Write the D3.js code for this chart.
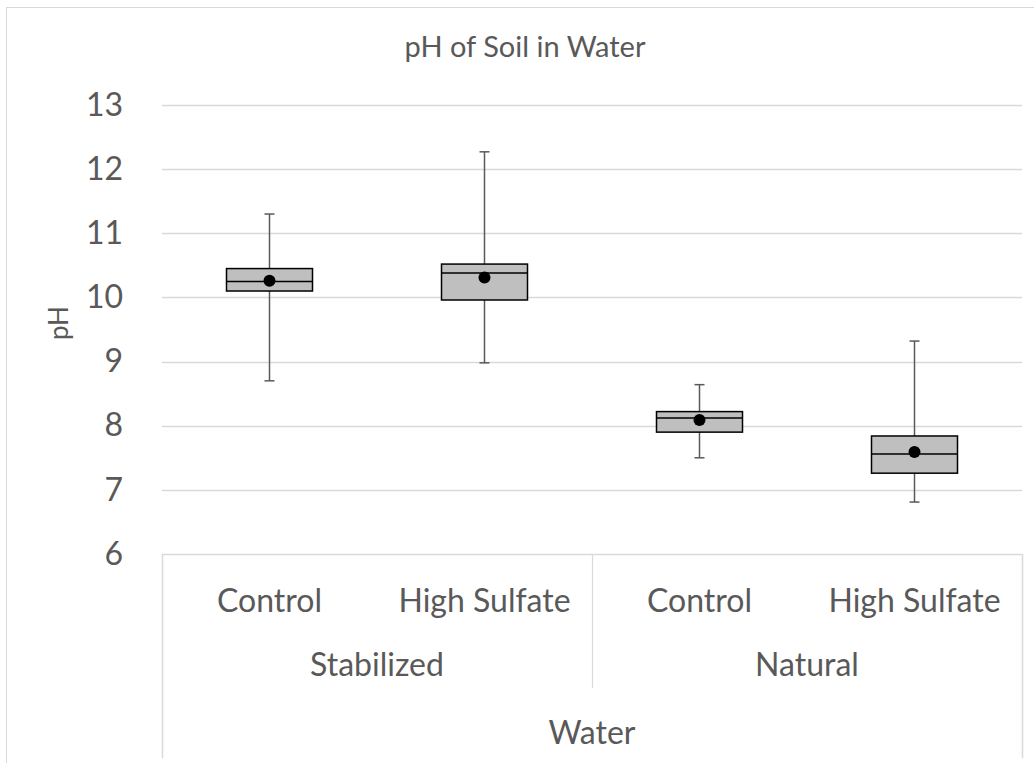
<!DOCTYPE html>
<html>
<head>
<meta charset="utf-8">
<script src="https://cdn.jsdelivr.net/npm/d3@7"></script>
<style>
  html, body { margin: 0; padding: 0; background: #fff; }
</style>
</head>
<body>
<script>
// box plot data
const groups = ["Stabilized", "Stabilized", "Natural", "Natural"];
const treatments = ["Control", "High Sulfate", "Control", "High Sulfate"];
const whiskerLow = [8.70, 8.98, 7.50, 6.81];
const q1 = [10.10, 9.96, 7.90, 7.26];
const median = [10.25, 10.38, 8.12, 7.56];
const q3 = [10.45, 10.52, 8.22, 7.84];
const whiskerHigh = [11.30, 12.27, 8.64, 9.32];
const mean = [10.26, 10.31, 8.09, 7.59];
const yTicks = [6, 7, 8, 9, 10, 11, 12, 13];

const width = 1034, height = 763;
const margin = { top: 105, right: 12, bottom: 209, left: 162 };
const innerW = width - margin.left - margin.right;
const innerH = height - margin.top - margin.bottom;
const font = "Lato, 'Open Sans', sans-serif";
const textColor = "#595959";
const gridColor = "#d9d9d9";

const svg = d3.select("body").append("svg")
  .attr("width", width)
  .attr("height", height)
  .style("font-family", font);

// outer chart border
svg.append("rect")
  .attr("x", 6.5).attr("y", 7.5)
  .attr("width", width).attr("height", height)
  .attr("fill", "none")
  .attr("stroke", gridColor);

const g = svg.append("g")
  .attr("transform", `translate(${margin.left},${margin.top})`);

const keys = treatments.map((t, i) => i);
const x = d3.scaleBand().domain(keys).range([0, innerW]);
const y = d3.scaleLinear().domain([6, 13]).range([innerH, 0]);

// gridlines
g.append("g")
  .selectAll("line")
  .data(yTicks.filter(d => d > 6))
  .join("line")
  .attr("x1", 0).attr("x2", innerW)
  .attr("y1", d => Math.round(y(d)) + 0.5)
  .attr("y2", d => Math.round(y(d)) + 0.5)
  .attr("stroke", gridColor)
  .attr("stroke-width", 1.5);

// y axis labels
const yAxis = d3.axisLeft(y).tickValues(yTicks).tickFormat(d3.format("d")).tickSize(0).tickPadding(39);
g.append("g")
  .call(yAxis)
  .call(sel => sel.select(".domain").remove())
  .call(sel => sel.selectAll("text")
    .style("font-family", font)
    .style("font-size", "32px")
    .attr("fill", textColor));

// category axis box
const catH = 204;
const axisG = g.append("g").attr("transform", `translate(0,${innerH})`);
axisG.append("line")
  .attr("x1", 0).attr("x2", innerW).attr("y1", 0.5).attr("y2", 0.5)
  .attr("stroke", gridColor).attr("stroke-width", 1.5);
axisG.append("line")
  .attr("x1", 0.5).attr("x2", 0.5).attr("y1", 0).attr("y2", catH)
  .attr("stroke", gridColor).attr("stroke-width", 1.5);
axisG.append("line")
  .attr("x1", innerW + 0.5).attr("x2", innerW + 0.5).attr("y1", 0).attr("y2", catH)
  .attr("stroke", gridColor).attr("stroke-width", 1.5);

// group divider and group labels
const groupNames = Array.from(new Set(groups));
const groupSpan = groupNames.map(name => {
  const idx = keys.filter(i => groups[i] === name);
  return { name, x0: x(idx[0]), x1: x(idx[idx.length - 1]) + x.bandwidth() };
});
axisG.selectAll(".divider")
  .data(groupSpan.slice(1))
  .join("line")
  .attr("class", "divider")
  .attr("x1", d => d.x0 + 0.5).attr("x2", d => d.x0 + 0.5)
  .attr("y1", 0).attr("y2", 134)
  .attr("stroke", gridColor).attr("stroke-width", 1.2);

axisG.selectAll(".treat")
  .data(keys)
  .join("text")
  .attr("class", "treat")
  .attr("x", d => x(d) + x.bandwidth() / 2)
  .attr("y", 58)
  .attr("text-anchor", "middle")
  .attr("fill", textColor)
  .style("font-size", "32px")
  .text(d => treatments[d]);

axisG.selectAll(".grp")
  .data(groupSpan)
  .join("text")
  .attr("class", "grp")
  .attr("x", d => (d.x0 + d.x1) / 2)
  .attr("y", 122)
  .attr("text-anchor", "middle")
  .attr("fill", textColor)
  .style("font-size", "32px")
  .text(d => d.name);

axisG.append("text")
  .attr("x", innerW / 2)
  .attr("y", 190)
  .attr("text-anchor", "middle")
  .attr("fill", textColor)
  .style("font-size", "32px")
  .text("Water");

// boxes
const boxW = x.bandwidth() * 0.4;
const capW = 10;
const boxes = g.append("g")
  .selectAll("g")
  .data(keys)
  .join("g")
  .attr("transform", d => `translate(${x(d) + x.bandwidth() / 2},0)`);

boxes.append("line")
  .attr("x1", 0).attr("x2", 0)
  .attr("y1", d => y(whiskerLow[d])).attr("y2", d => y(whiskerHigh[d]))
  .attr("stroke", "#595959").attr("stroke-width", 1.5);
boxes.append("line")
  .attr("x1", -capW / 2).attr("x2", capW / 2)
  .attr("y1", d => y(whiskerLow[d])).attr("y2", d => y(whiskerLow[d]))
  .attr("stroke", "#595959").attr("stroke-width", 1.5);
boxes.append("line")
  .attr("x1", -capW / 2).attr("x2", capW / 2)
  .attr("y1", d => y(whiskerHigh[d])).attr("y2", d => y(whiskerHigh[d]))
  .attr("stroke", "#595959").attr("stroke-width", 1.5);

boxes.append("rect")
  .attr("x", -boxW / 2)
  .attr("width", boxW)
  .attr("y", d => y(q3[d]))
  .attr("height", d => y(q1[d]) - y(q3[d]))
  .attr("fill", "#bfbfbf")
  .attr("stroke", "#000")
  .attr("stroke-width", 1.5);

boxes.append("line")
  .attr("x1", -boxW / 2).attr("x2", boxW / 2)
  .attr("y1", d => y(median[d])).attr("y2", d => y(median[d]))
  .attr("stroke", "#000").attr("stroke-width", 1.5);

boxes.append("circle")
  .attr("cx", 0)
  .attr("cy", d => y(mean[d]))
  .attr("r", 6)
  .attr("fill", "#000");

// titles
svg.append("text")
  .attr("x", 525)
  .attr("y", 57)
  .attr("text-anchor", "middle")
  .attr("fill", textColor)
  .style("font-size", "29px")
  .text("pH of Soil in Water");

svg.append("text")
  .attr("transform", `translate(68,${margin.top + y(9.6)}) rotate(-90)`)
  .attr("text-anchor", "middle")
  .attr("fill", textColor)
  .style("font-size", "26px")
  .text("pH");
</script>
</body>
</html>
